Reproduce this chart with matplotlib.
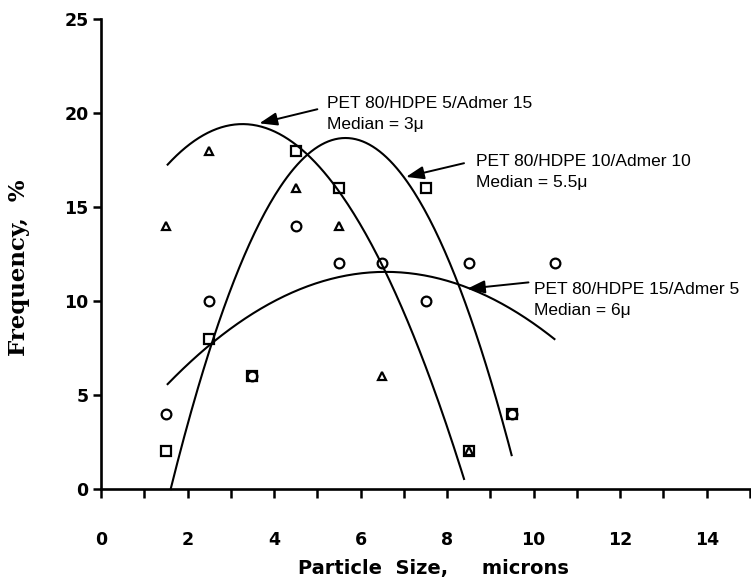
import numpy as np
import matplotlib
matplotlib.use("Agg")
import matplotlib.pyplot as plt
from matplotlib.ticker import MultipleLocator, FuncFormatter

# Measured frequency distributions (particle size in microns, frequency in %)
tri_x = [1.5, 2.5, 4.5, 5.5, 6.5, 8.5]
tri_y = [14, 18, 16, 14, 6, 2]

sq_x = [1.5, 2.5, 3.5, 4.5, 5.5, 7.5, 8.5, 9.5]
sq_y = [2, 8, 6, 18, 16, 16, 2, 4]

circ_x = [1.5, 2.5, 3.5, 4.5, 5.5, 6.5, 7.5, 8.5, 9.5, 10.5]
circ_y = [4, 10, 6, 14, 12, 12, 10, 12, 4, 12]

# Quadratic fits: (peak x, peak y, curvature, x start, x end)
fit_tri = (3.27, 19.41, 0.72, 1.54, 8.39)
fit_sq = (5.65, 18.67, 1.144, 1.61, 9.49)
fit_circ = (6.58, 11.55, 0.235, 1.54, 10.48)

labels = [
    ("PET 80/HDPE 5/Admer 15", "Median = 3\u03bc"),
    ("PET 80/HDPE 10/Admer 10", "Median = 5.5\u03bc"),
    ("PET 80/HDPE 15/Admer 5", "Median = 6\u03bc"),
]
arrow_tips = [(3.66, 19.45), (7.05, 16.6), (8.46, 10.65)]
arrow_tails = [(5.0, 20.2), (8.39, 17.33), (9.88, 10.99)]
text_pos = [(5.23, 20.5), (8.66, 17.44), (10.0, 10.61)]

fig = plt.figure(figsize=(7.51, 5.79), dpi=100)
ax = fig.add_axes([0.1345, 0.1554, 0.8642, 0.8118])

for fx, fy, k, x0, x1 in (fit_tri, fit_sq, fit_circ):
    xs = np.linspace(x0, x1, 200)
    ax.plot(xs, fy - k * (xs - fx) ** 2, color="black", lw=1.5, clip_on=False)

mk = dict(linestyle="none", markerfacecolor="none", markeredgecolor="black",
          markeredgewidth=1.6, clip_on=False)
ax.plot(circ_x, circ_y, marker="o", markersize=7, **mk)
ax.plot(sq_x, sq_y, marker="s", markersize=6.5, **mk)
ax.plot(tri_x, tri_y, marker="^", markersize=6, **mk)

text_font = dict(family="Liberation Sans", fontsize=12.5, color="black")
for (l1, l2), tip, tail, (tx, ty) in zip(labels, arrow_tips, arrow_tails, text_pos):
    ax.annotate("", xy=tip, xytext=tail,
                arrowprops=dict(arrowstyle="-|>,head_length=0.6,head_width=0.22",
                                color="black", lw=1.4,
                                mutation_scale=18, shrinkA=0, shrinkB=0))
    ax.text(tx, ty, l1, ha="left", va="center", **text_font)
    ax.text(tx, ty - 1.12, l2, ha="left", va="center", **text_font)

ax.set_xlim(0, 15)
ax.set_ylim(0, 25)
ax.xaxis.set_major_locator(MultipleLocator(1))
ax.xaxis.set_major_formatter(FuncFormatter(
    lambda v, p: f"{int(v)}" if int(round(v)) % 2 == 0 and v < 14.5 else ""))
ax.yaxis.set_major_locator(MultipleLocator(5))

for side in ("top", "right"):
    ax.spines[side].set_visible(False)
for side in ("left", "bottom"):
    ax.spines[side].set_linewidth(1.9)

ax.tick_params(axis="x", direction="out", length=6.5, width=1.8, pad=24)
ax.tick_params(axis="y", direction="out", length=6, width=1.8, pad=3)
for lab in ax.get_xticklabels() + ax.get_yticklabels():
    lab.set_fontfamily("DejaVu Sans")
    lab.set_fontweight("bold")
    lab.set_fontsize(12.5)

ax.set_xlabel("Particle  Size,     microns", fontfamily="DejaVu Sans",
              fontweight="bold", fontsize=14)
ax.xaxis.set_label_coords(0.512, -0.148)
ax.set_ylabel("Frequency,  %", fontfamily="DejaVu Serif",
              fontweight="bold", fontsize=16.5)
ax.yaxis.set_label_coords(-0.11, 0.47)

fig.savefig("out.png", dpi=100, facecolor="white")
